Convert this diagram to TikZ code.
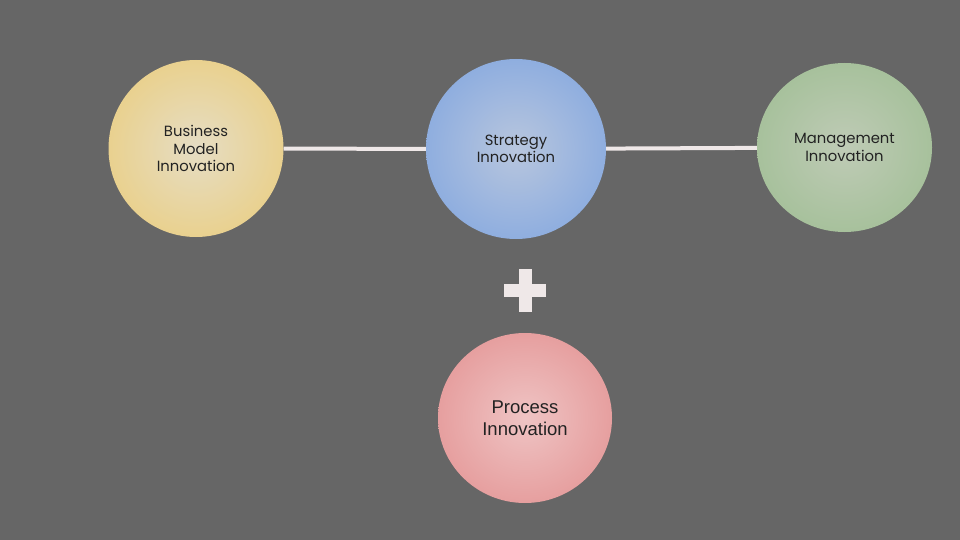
\documentclass[tikz,border=0pt]{standalone}
\usepackage{fontspec}
\setmainfont{Poppins}
\newfontfamily\arialfont{Liberation Sans}
\usetikzlibrary{shapes.geometric}
\definecolor{bgc}{HTML}{666666}
\definecolor{bmc}{HTML}{E9D18F}
\definecolor{bmin}{HTML}{E6DDC4}
\definecolor{stc}{HTML}{8FAEDF}
\definecolor{stin}{HTML}{B8C6DE}
\definecolor{mgc}{HTML}{A7C19C}
\definecolor{mgin}{HTML}{BFCBB6}
\definecolor{prc}{HTML}{E69F9F}
\definecolor{prin}{HTML}{EFC4C4}
\definecolor{linec}{HTML}{EFE8E8}
\definecolor{txt}{HTML}{222222}
\tikzset{
  bubble/.style={ellipse, draw=none, align=center, text=txt, inner sep=0pt},
  lbl/.style={font=\fontsize{14.8}{17.5}\selectfont},
  link/.style={draw=linec, line width=4pt}
}
\begin{document}
\begin{tikzpicture}[x=1pt,y=-1pt]
\fill[bgc] (0,0) rectangle (960,540);
\useasboundingbox (0,0) rectangle (960,540);
\node[bubble, lbl, minimum width=175pt, minimum height=177pt, inner color=bmin, outer color=bmc] (bm) at (196,148.5) {Business\\Model\\Innovation};
\node[bubble, lbl, minimum width=180pt, minimum height=180pt, inner color=stin, outer color=stc] (st) at (516,149) {Strategy\\Innovation};
\node[bubble, lbl, minimum width=175pt, minimum height=169pt, inner color=mgin, outer color=mgc] (mg) at (844.5,147.5) {Management\\Innovation};
\node[bubble, minimum width=174pt, minimum height=170pt, inner color=prin, outer color=prc, font=\arialfont\fontsize{18.5}{22}\selectfont] (pr) at (525,418) {Process\\Innovation};
\draw[link] (bm) -- (st);
\draw[link] (st) -- (mg);
\fill[linec] (504,284) rectangle (546,297);
\fill[linec] (519,269) rectangle (532,312);
\end{tikzpicture}
\end{document}
